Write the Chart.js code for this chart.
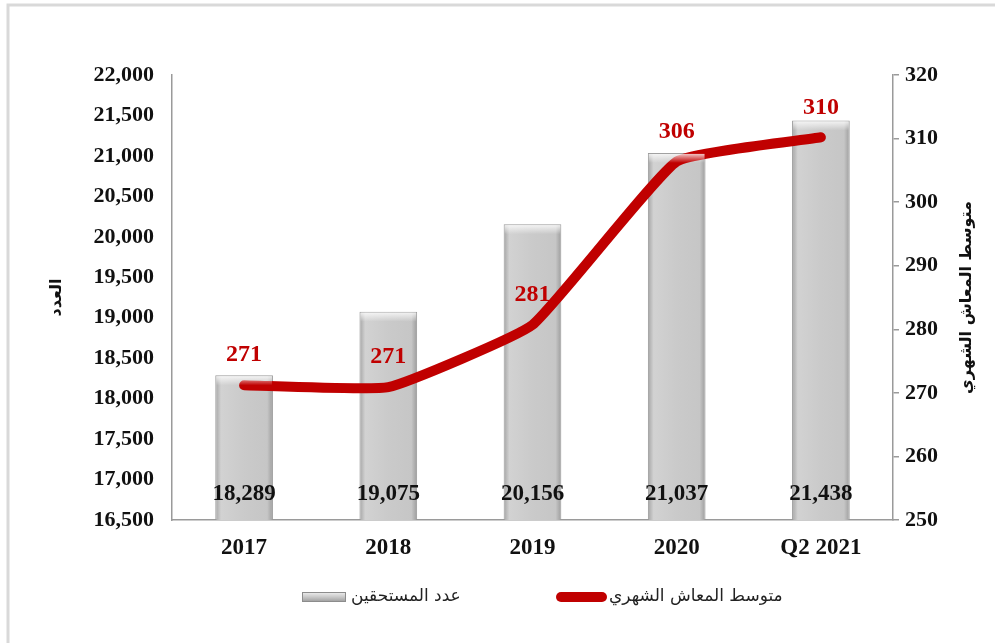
<!DOCTYPE html>
<html>
<head>
<meta charset="utf-8">
<script src="https://cdn.jsdelivr.net/npm/chart.js@4.4.1/dist/chart.umd.min.js"></script>
<style>
  html, body { margin: 0; padding: 0; background: #ffffff; }
  #wrap { width: 995px; height: 643px; position: relative; }
</style>
</head>
<body>
<div id="wrap"><canvas id="c" width="995" height="643"></canvas></div>
<script>
const categories = ['2017', '2018', '2019', '2020', 'Q2 2021'];
const beneficiaries = [18289, 19075, 20156, 21037, 21438];
const avgPension = [271.2, 270.9, 280.7, 306.4, 310.2];
const leftTitle = 'العدد';
const rightTitle = 'متوسط المعاش الشهري';
const barLabel = 'عدد المستحقين';
const lineLabel = 'متوسط المعاش الشهري';

const SERIF = '"Liberation Serif", "Times New Roman", serif';
const AR = '"DejaVu Sans", Arial, sans-serif';

function barFill(c) {
  const ch = c.chart;
  const xs = ch.scales && ch.scales.x;
  if (!ch.chartArea || !xs || c.dataIndex === undefined) return '#c8c8c8';
  const cx = xs.getPixelForValue(c.dataIndex);
  const w = xs.width / categories.length * 0.4;
  if (!isFinite(cx) || !isFinite(w) || w <= 0) return '#c8c8c8';
  const g = ch.ctx.createLinearGradient(cx - w / 2, 0, cx + w / 2, 0);
  g.addColorStop(0, '#a4a4a4');
  g.addColorStop(0.1, '#d2d2d2');
  g.addColorStop(0.5, '#cacaca');
  g.addColorStop(0.9, '#c6c6c6');
  g.addColorStop(1, '#9c9c9c');
  return g;
}

const extras = {
  id: 'extras',
  beforeDraw(chart) {
    const ctx = chart.ctx;
    ctx.save();
    ctx.fillStyle = '#ffffff';
    ctx.fillRect(0, 0, chart.width, chart.height);
    ctx.strokeStyle = '#d9d9d9';
    ctx.lineWidth = 3;
    ctx.beginPath();
    ctx.moveTo(8, chart.height);
    ctx.lineTo(8, 5);
    ctx.lineTo(chart.width, 5);
    ctx.stroke();
    ctx.restore();
  },
  afterDatasetsDraw(chart) {
    const ctx = chart.ctx;
    const barMeta = chart.getDatasetMeta(0);
    const lineMeta = chart.getDatasetMeta(1);
    const bottom = chart.chartArea.bottom;
    ctx.save();
    barMeta.data.forEach((bar) => {
      const w = bar.width, x0 = bar.x - w / 2, y0 = bar.y;
      const g = ctx.createLinearGradient(0, y0, 0, y0 + 10);
      g.addColorStop(0, 'rgba(255,255,255,0.85)');
      g.addColorStop(1, 'rgba(255,255,255,0)');
      ctx.fillStyle = g;
      ctx.fillRect(x0 + 1, y0 + 1, w - 2, 9);
    });
    ctx.textAlign = 'center';
    ctx.textBaseline = 'middle';
    ctx.fillStyle = '#111';
    ctx.font = 'bold 23px ' + SERIF;
    barMeta.data.forEach((bar, i) => {
      ctx.fillText(beneficiaries[i].toLocaleString('en-US'), bar.x, bottom - 26);
    });
    ctx.fillStyle = '#c00000';
    ctx.font = 'bold 24px ' + SERIF;
    lineMeta.data.forEach((pt, i) => {
      ctx.fillText(String(Math.round(avgPension[i])), pt.x, pt.y - 30);
    });
    ctx.restore();
  },
  afterDraw(chart) {
    const ctx = chart.ctx;
    const ca = chart.chartArea;
    ctx.save();
    ctx.fillStyle = '#111';
    ctx.textAlign = 'center';
    ctx.textBaseline = 'middle';
    ctx.save();
    ctx.translate(57, (ca.top + ca.bottom) / 2);
    ctx.rotate(-Math.PI / 2);
    ctx.font = 'bold 16px ' + AR;
    ctx.fillText(leftTitle, 0, 0);
    ctx.restore();
    ctx.save();
    ctx.translate(967, (ca.top + ca.bottom) / 2);
    ctx.rotate(-Math.PI / 2);
    ctx.font = 'bold 16px ' + AR;
    ctx.fillText(rightTitle, 0, 0);
    ctx.restore();

    const ly = 597;
    const bx0 = 302, bx1 = 346;
    const g = ctx.createLinearGradient(0, ly - 5, 0, ly + 5);
    g.addColorStop(0, '#f0f0f0');
    g.addColorStop(0.5, '#c8c8c8');
    g.addColorStop(1, '#9a9a9a');
    ctx.fillStyle = g;
    ctx.fillRect(bx0, ly - 5, bx1 - bx0, 10);
    ctx.strokeStyle = '#8c8c8c';
    ctx.lineWidth = 1;
    ctx.strokeRect(bx0 + 0.5, ly - 4.5, bx1 - bx0 - 1, 9);
    ctx.font = '17px ' + AR;
    ctx.fillStyle = '#222';
    ctx.textAlign = 'left';
    ctx.fillText(barLabel, 351, ly);
    ctx.strokeStyle = '#c00000';
    ctx.lineWidth = 10;
    ctx.lineCap = 'round';
    ctx.beginPath();
    ctx.moveTo(561, ly);
    ctx.lineTo(602, ly);
    ctx.stroke();
    ctx.fillText(lineLabel, 609, ly);
    ctx.restore();
  }
};

const ctx = document.getElementById('c').getContext('2d');
new Chart(ctx, {
  type: 'bar',
  data: {
    labels: categories,
    datasets: [
      {
        type: 'bar',
        label: barLabel,
        data: beneficiaries,
        yAxisID: 'y',
        order: 2,
        backgroundColor: barFill,
        borderColor: '#9a9a9a',
        borderWidth: 1,
        categoryPercentage: 0.8,
        barPercentage: 0.5
      },
      {
        type: 'line',
        label: lineLabel,
        data: avgPension,
        yAxisID: 'y1',
        order: 1,
        borderColor: '#c00000',
        backgroundColor: '#c00000',
        borderWidth: 10,
        borderCapStyle: 'round',
        borderJoinStyle: 'round',
        pointRadius: 0,
        pointHoverRadius: 0,
        tension: 0.12,
        fill: false
      }
    ]
  },
  options: {
    responsive: false,
    animation: false,
    events: [],
    layout: { padding: { top: 75, left: 0, right: 0, bottom: 0 } },
    plugins: {
      legend: { display: false },
      tooltip: { enabled: false },
      title: { display: false }
    },
    scales: {
      x: {
        grid: { display: false, drawTicks: false },
        border: { display: true, color: '#9a9a9a', width: 1.5 },
        ticks: {
          color: '#111',
          font: { family: SERIF, size: 23, weight: 'bold' },
          padding: 14,
          maxRotation: 0
        },
        afterFit(s) { s.height = 123; }
      },
      y: {
        position: 'left',
        min: 16500,
        max: 22000,
        grid: { display: false, drawTicks: false },
        border: { display: true, color: '#9a9a9a', width: 1.5 },
        ticks: {
          stepSize: 500,
          color: '#111',
          font: { family: SERIF, size: 22, weight: 'bold' },
          padding: 18,
          callback: (v) => Number(v).toLocaleString('en-US')
        },
        afterFit(s) { s.width = 172; }
      },
      y1: {
        position: 'right',
        min: 250,
        max: 320,
        grid: { display: true, drawOnChartArea: false, drawTicks: true, tickLength: 6, color: '#9a9a9a', lineWidth: 1.5 },
        border: { display: true, color: '#9a9a9a', width: 1.5 },
        ticks: {
          stepSize: 10,
          color: '#111',
          font: { family: SERIF, size: 22, weight: 'bold' },
          padding: 6
        },
        afterFit(s) { s.width = 102; }
      }
    }
  },
  plugins: [extras]
});
</script>
</body>
</html>
